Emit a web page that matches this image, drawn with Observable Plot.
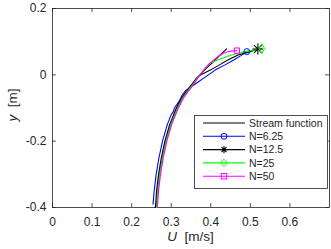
<!DOCTYPE html>
<html><head><meta charset="utf-8">
<script src="https://cdn.jsdelivr.net/npm/d3@7"></script>
<script src="https://cdn.jsdelivr.net/npm/@observablehq/plot@0.6"></script>
<style>body{margin:0;background:#fff;}#chart{position:relative;width:331px;height:249px;}</style>
</head><body><div id="chart"></div>
<script>
const xTicks = [0, 0.1, 0.2, 0.3, 0.4, 0.5, 0.6];
const yTicks = [-0.4, -0.2, 0, 0.2];
const seriesNames = ["Stream function", "N=6.25", "N=12.5", "N=25", "N=50"];

const streamY = [-0.4, -0.35, -0.3, -0.25, -0.2, -0.15, -0.1, -0.07, -0.05, -0.03, -0.01, 0.0, 0.02, 0.04, 0.06, 0.078];
const streamU = [0.262, 0.265, 0.270, 0.277, 0.286, 0.298, 0.315, 0.328, 0.340, 0.353, 0.365, 0.372, 0.389, 0.407, 0.424, 0.440];

const n625Y = [-0.39, -0.35, -0.3, -0.25, -0.2, -0.15, -0.12, -0.11, -0.1, -0.08, -0.06, -0.048, -0.04, -0.03, -0.02, -0.01, 0.0, 0.015, 0.03, 0.045, 0.058, 0.066, 0.070];
const n625U = [0.254, 0.257, 0.262, 0.269, 0.278, 0.290, 0.300, 0.306, 0.308, 0.320, 0.328, 0.336, 0.346, 0.358, 0.370, 0.382, 0.394, 0.412, 0.436, 0.458, 0.476, 0.486, 0.491];

const n125Y = [-0.4, -0.35, -0.3, -0.25, -0.2, -0.15, -0.1, -0.07, -0.05, -0.03, -0.01, 0.0, 0.015, 0.03, 0.045, 0.06, 0.07, 0.078];
const n125U = [0.260, 0.263, 0.268, 0.275, 0.284, 0.296, 0.313, 0.326, 0.338, 0.351, 0.364, 0.375, 0.400, 0.422, 0.443, 0.469, 0.500, 0.519];

const n25Y = [-0.4, -0.35, -0.3, -0.25, -0.2, -0.15, -0.1, -0.07, -0.05, -0.03, -0.01, 0.0, 0.02, 0.035, 0.045, 0.06, 0.07, 0.076, 0.079];
const n25U = [0.263, 0.266, 0.271, 0.278, 0.287, 0.299, 0.316, 0.329, 0.341, 0.354, 0.366, 0.372, 0.386, 0.398, 0.417, 0.452, 0.486, 0.514, 0.529];

const n50Y = [-0.4, -0.35, -0.3, -0.25, -0.2, -0.15, -0.1, -0.07, -0.05, -0.03, -0.01, 0.0, 0.02, 0.035, 0.045, 0.055, 0.065, 0.071, 0.073];
const n50U = [0.265, 0.268, 0.273, 0.280, 0.289, 0.301, 0.318, 0.331, 0.343, 0.356, 0.367, 0.373, 0.386, 0.398, 0.408, 0.418, 0.432, 0.447, 0.466];

const colors = ["#000000", "#0000ff", "#000000", "#00ff00", "#ff00ff"];
const symbols = [null, "circle", "star", "diamond", "square"];

const toRows = (Y, U) => Y.map((y, i) => ({y, U: U[i]}));
const series = [
  toRows(streamY, streamU),
  toRows(n625Y, n625U),
  toRows(n125Y, n125U),
  toRows(n25Y, n25U),
  toRows(n50Y, n50U)
];

const W = 331, H = 249, mL = 52, mR = 2, mT = 8, mB = 42;
const pw = W - mL - mR, ph = H - mT - mB;
const ink = "#262626";
const fmt = d => String(d);

const marks = [
  Plot.frame({stroke: ink, strokeWidth: 0.8}),
  Plot.ruleX(xTicks, {x: d => d, insetTop: ph - 4, stroke: ink, strokeWidth: 0.8}),
  Plot.ruleX(xTicks, {x: d => d, insetBottom: ph - 4, stroke: ink, strokeWidth: 0.8}),
  Plot.ruleY(yTicks, {y: d => d, insetRight: pw - 4, stroke: ink, strokeWidth: 0.8}),
  Plot.ruleY(yTicks, {y: d => d, insetLeft: pw - 4, stroke: ink, strokeWidth: 0.8}),
  Plot.axisX({ticks: xTicks, tickSize: 0, tickPadding: 10, tickFormat: fmt, label: null, fontSize: 12}),
  Plot.axisY({ticks: yTicks, tickSize: 0, tickPadding: 6, tickFormat: fmt, label: null, fontSize: 12})
];
series.forEach((rows, i) => {
  marks.push(Plot.line(rows, {x: "U", y: "y", stroke: colors[i], strokeWidth: 1.1}));
});
series.forEach((rows, i) => {
  if (!symbols[i]) return;
  const last = [rows[rows.length - 1]];
  if (symbols[i] === "star") {
    marks.push(Plot.dot(last, {x: "U", y: "y", symbol: "plus", r: 3.6, stroke: colors[i], strokeWidth: 1.1}));
    marks.push(Plot.dot(last, {x: "U", y: "y", symbol: "times", r: 3.6, stroke: colors[i], strokeWidth: 1.1}));
  } else {
    marks.push(Plot.dot(last, {x: "U", y: "y", symbol: symbols[i], r: 3, stroke: colors[i], strokeWidth: 1, fill: "none"}));
  }
});

const svgEl = Plot.plot({
  width: W, height: H,
  marginLeft: mL, marginRight: mR, marginTop: mT, marginBottom: mB,
  x: {domain: [0, 0.7]},
  y: {domain: [-0.4, 0.2]},
  style: {fontFamily: "'Liberation Sans', Arial, Helvetica, sans-serif", color: ink, background: "white", overflow: "visible"},
  marks
});
document.getElementById("chart").appendChild(svgEl);

const svg = d3.select(svgEl);
const font = "'Liberation Sans', Arial, Helvetica, sans-serif";
// axis labels
const xl = svg.append("text").attr("x", mL + pw / 2).attr("y", 241).attr("text-anchor", "middle")
  .attr("font-size", 13.5).attr("font-family", font).attr("fill", ink);
xl.append("tspan").attr("font-style", "italic").text("U");
xl.append("tspan").text("\u00a0\u00a0[m/s]");
const yl = svg.append("text").attr("transform", "translate(17,105) rotate(-90)").attr("text-anchor", "middle")
  .attr("font-size", 13.5).attr("font-family", font).attr("fill", ink);
yl.append("tspan").attr("font-style", "italic").text("y");
yl.append("tspan").text("\u00a0\u00a0[m]");

// legend
const lg = svg.append("g").attr("text-anchor", "start");
lg.append("rect").attr("x", 194.5).attr("y", 115.5).attr("width", 133).attr("height", 73)
  .attr("fill", "white").attr("stroke", ink).attr("stroke-width", 0.8);
seriesNames.forEach((name, i) => {
  const yy = 123 + i * 13.3;
  lg.append("line").attr("x1", 203).attr("x2", 245).attr("y1", yy).attr("y2", yy)
    .attr("stroke", colors[i]).attr("stroke-width", 1.1);
  const s = symbols[i];
  if (s === "circle") lg.append("circle").attr("cx", 224).attr("cy", yy).attr("r", 3).attr("fill", "none").attr("stroke", colors[i]);
  if (s === "square") lg.append("rect").attr("x", 221.3).attr("y", yy - 2.7).attr("width", 5.4).attr("height", 5.4).attr("fill", "none").attr("stroke", colors[i]);
  if (s === "diamond") lg.append("path").attr("d", `M224,${yy-3.6}L227.6,${yy}L224,${yy+3.6}L220.4,${yy}Z`).attr("fill", "none").attr("stroke", colors[i]);
  if (s === "star") lg.append("path").attr("d", `M224,${yy-3.6}V${yy+3.6}M220.4,${yy}H227.6M221.5,${yy-2.5}L226.5,${yy+2.5}M221.5,${yy+2.5}L226.5,${yy-2.5}`).attr("fill", "none").attr("stroke", colors[i]).attr("stroke-width", 1.1);
  lg.append("text").attr("x", 249).attr("y", yy).attr("dy", "0.35em").attr("font-size", 10.5)
    .attr("text-anchor", "start").attr("font-family", font).attr("fill", ink).text(name);
});
</script>
</body></html>
